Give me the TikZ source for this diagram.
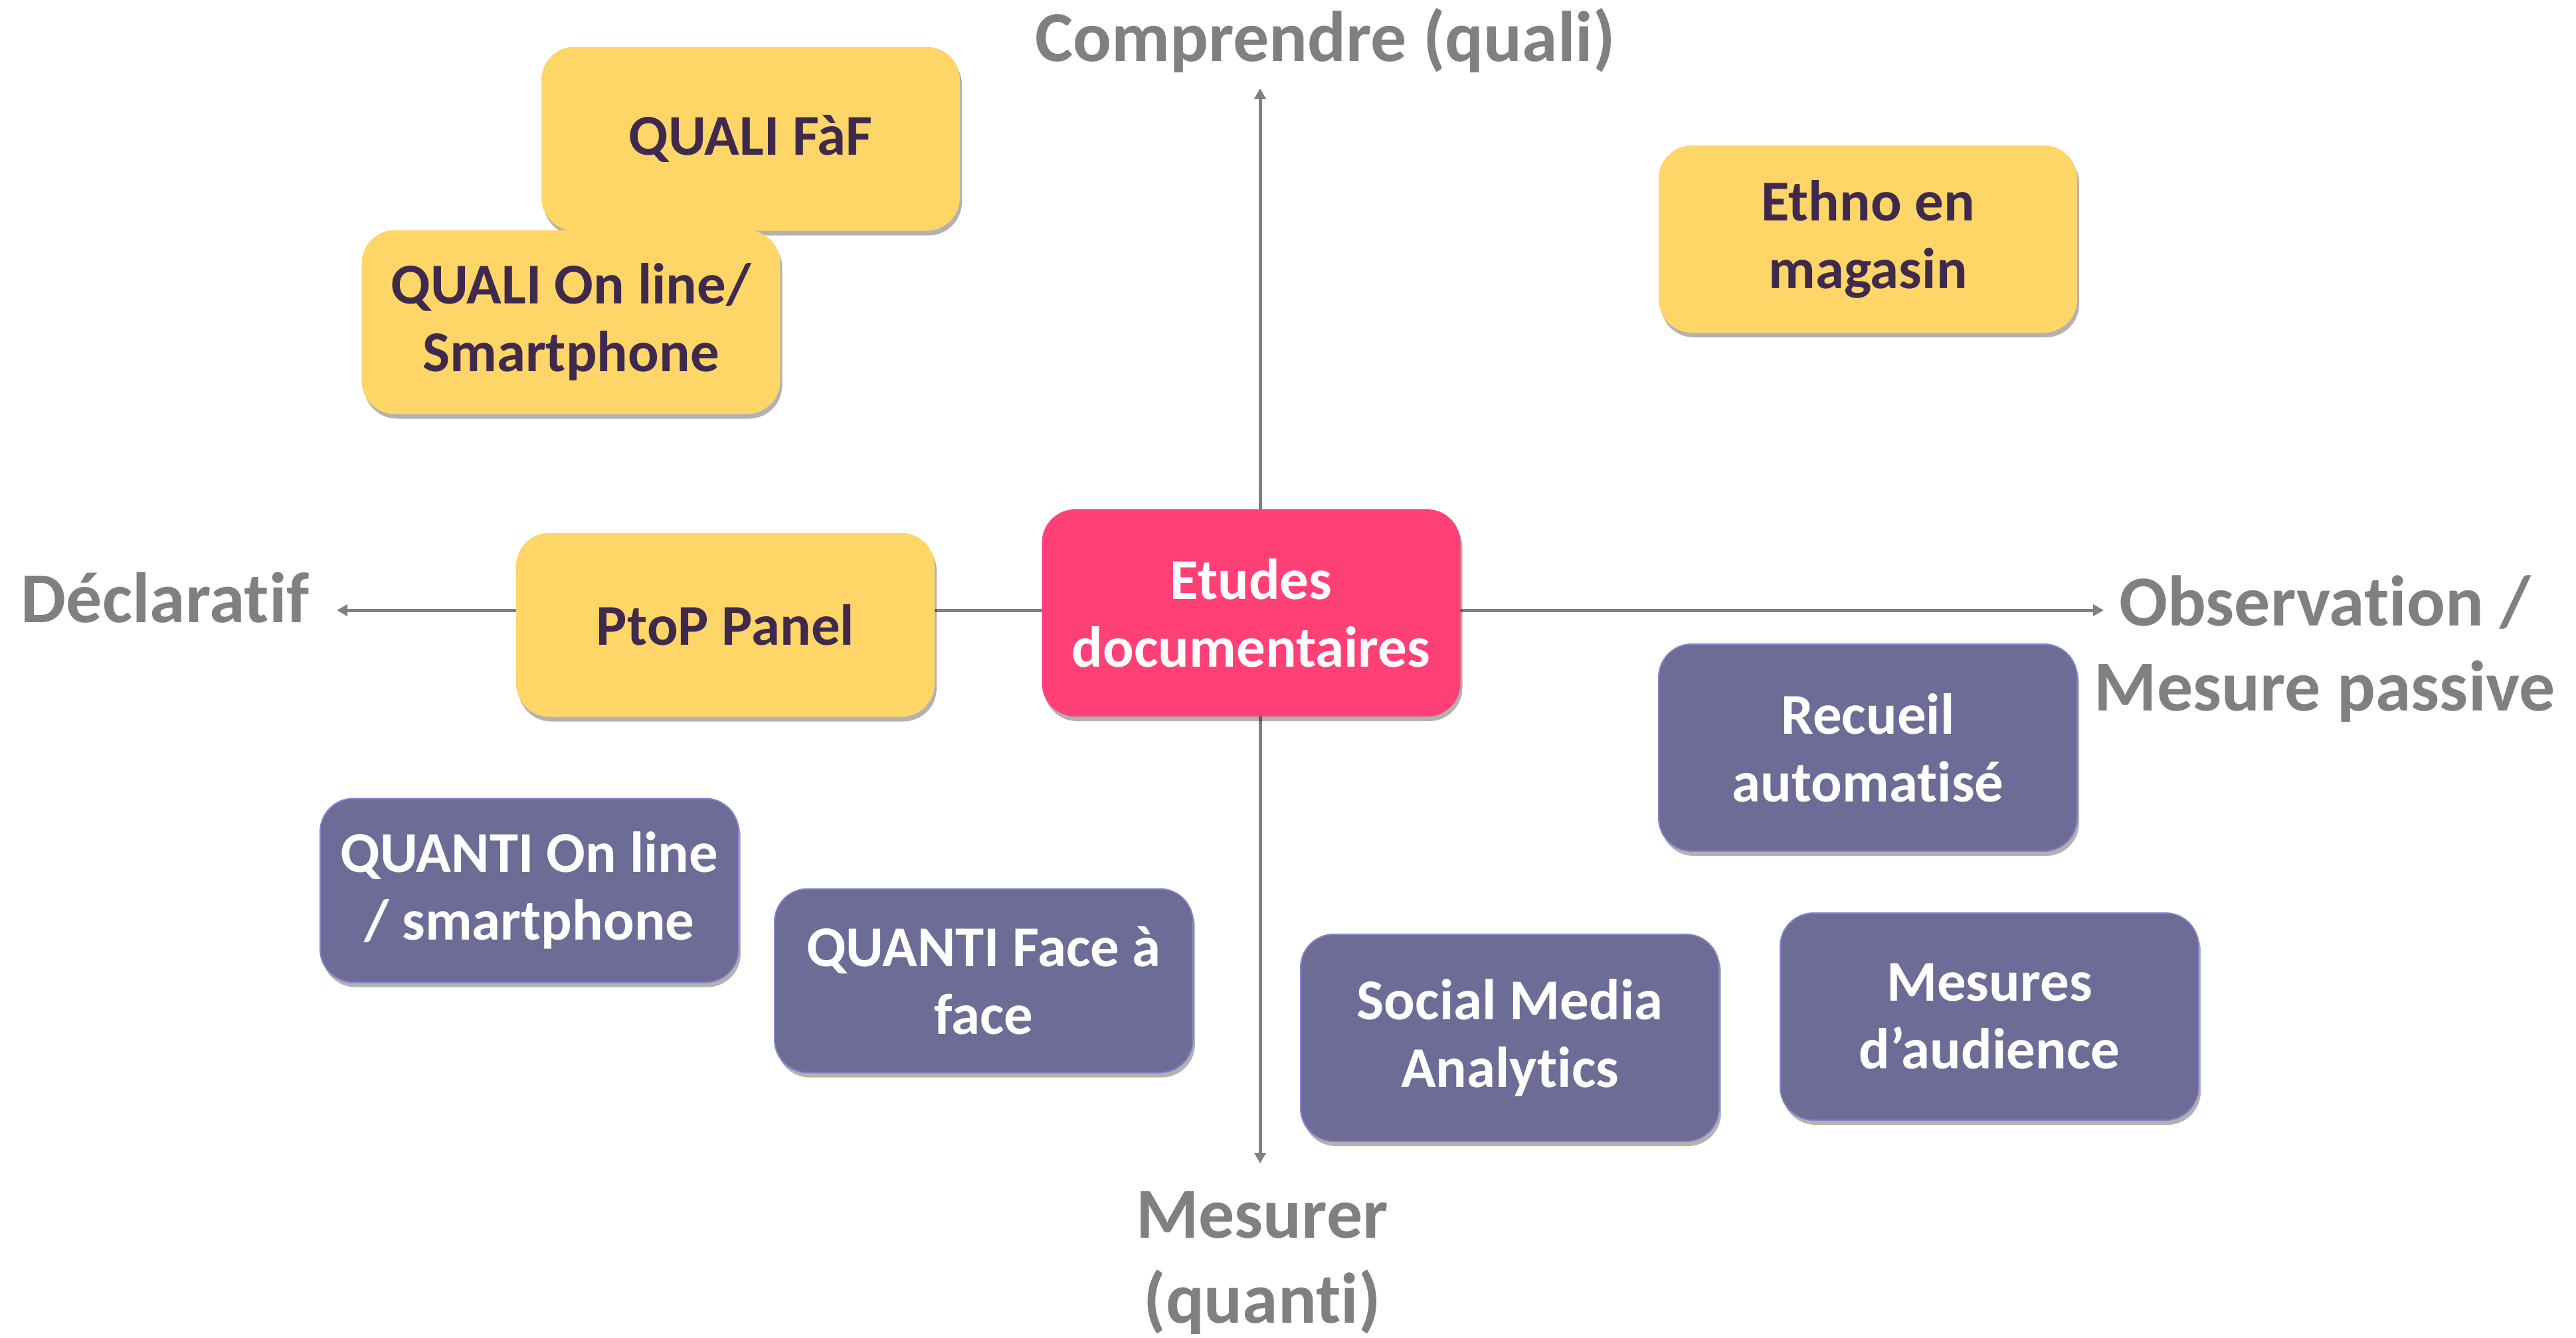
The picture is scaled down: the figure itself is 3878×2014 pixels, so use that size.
\documentclass[tikz,border=0pt]{standalone}
\usepackage{fontspec}
\setmainfont{Carlito}[Ligatures=NoCommon]
\usetikzlibrary{shadows,arrows.meta,backgrounds}
\definecolor{yel}{HTML}{FED668}
\definecolor{yeltext}{HTML}{3F2A4D}
\definecolor{pur}{HTML}{6D6C96}
\definecolor{purline}{HTML}{8684C8}
\definecolor{pink}{HTML}{FF4077}
\definecolor{axgray}{HTML}{808080}
\begin{document}
\begin{tikzpicture}[x=1pt,y=-1pt,
  box/.style={rounded corners=50pt, minimum width=630pt, minimum height=277pt, align=center, inner sep=0pt,
    font=\bfseries\fontsize{87}{102}\selectfont,
    drop shadow={shadow xshift=3pt, shadow yshift=-7pt, opacity=0.3, fill=black}},
  tall/.style={minimum height=312pt},
  ybox/.style={box, fill=yel, text=yeltext},
  pbox/.style={box, fill=pur, draw=purline, line width=2pt, text=white},
  kbox/.style={box, fill=pink, text=white},
  axlabel/.style={inner sep=0pt, align=center, text=axgray, font=\bfseries\fontsize{108}{128}\selectfont},
  axis/.style={draw=axgray, line width=5pt, -{Triangle[length=16pt,width=17pt]}}
]
\useasboundingbox (0,0) rectangle (3878,2014);

\node[ybox] (qfaf) at (1130,209) {QUALI FàF};
\node[ybox] (qonl) at (859.5,485) {QUALI On line/\\Smartphone};
\node[ybox, minimum height=282pt] (ethno) at (2812,360) {Ethno en\\magasin};
\node[ybox] (ptop) at (1092,941) {PtoP Panel};
\node[kbox, tall] (etudes) at (1883.5,923) {Etudes\\documentaires};
\node[pbox, tall] (recueil) at (2812,1126) {Recueil\\automatisé};
\node[pbox] (qtonl) at (797,1341) {QUANTI On line\\/ smartphone};
\node[pbox] (qtfaf) at (1481,1477) {QUANTI Face à\\face};
\node[pbox, tall] (sma) at (2273,1563) {Social Media\\Analytics};
\node[pbox, tall] (mes) at (2995,1531) {Mesures\\d’audience};

\coordinate (origin) at (1897,919);
\coordinate (top) at (1897,133);
\coordinate (bottom) at (1897,1752);
\coordinate (left) at (507,919);
\coordinate (right) at (3167,919);

\begin{scope}[on background layer]
\draw[axis] (origin) -- (top);
\draw[axis] (origin) -- (bottom);
\draw[axis] (origin) -- (left);
\draw[axis] (origin) -- (right);
\end{scope}

\node[axlabel, anchor=base] (lcomp) at (1995,92) {Comprendre (quali)};
\node[axlabel, anchor=base east] (ldecl) at (466,937) {Déclaratif};
\node[axlabel, anchor=base] (lobs) at (3500,1070) {Observation /\\Mesure passive};
\node[axlabel, anchor=base] (lmes) at (1900,1992) {Mesurer\\(quanti)};
\end{tikzpicture}
\end{document}
